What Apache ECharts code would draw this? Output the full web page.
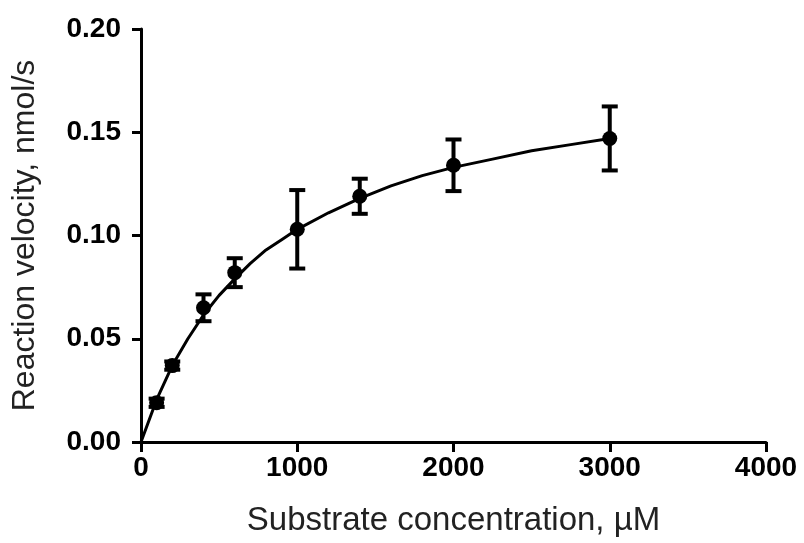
<!DOCTYPE html>
<html>
<head>
<meta charset="utf-8">
<script src="https://cdn.jsdelivr.net/npm/echarts@6/dist/echarts.min.js"></script>
<style>html,body{margin:0;padding:0;background:#fff;}#c{width:804px;height:543px;}</style>
</head>
<body>
<div id="c"></div>
<script>
// Measured data (substrate concentration in µM, velocity in nmol/s, SEM)
var concentrations = [100, 200, 400, 600, 1000, 1400, 2000, 3000];
var velocities = [0.019, 0.037, 0.065, 0.082, 0.103, 0.119, 0.134, 0.147];
var errors = [0.002, 0.002, 0.0065, 0.007, 0.019, 0.0085, 0.0125, 0.0155];
// Fitted curve, values
var fitX = [0, 100, 200, 300, 400, 500, 600, 700, 800, 900, 1000, 1200, 1400, 1600, 1800, 2000, 2250, 2500, 2750, 3000];
var fitY = [0, 0.0205, 0.037, 0.050, 0.0615, 0.071, 0.079, 0.0865, 0.093, 0.098, 0.103, 0.111, 0.118, 0.124, 0.129, 0.133, 0.137, 0.141, 0.144, 0.147];
var xTicks = [0, 1000, 2000, 3000, 4000];
var yTicks = [0.00, 0.05, 0.10, 0.15, 0.20];

var chart = echarts.init(document.getElementById('c'));
var pts = concentrations.map(function (x, i) { return [x, velocities[i]]; });
var bars = concentrations.map(function (x, i) { return [x, velocities[i] - errors[i], velocities[i] + errors[i]]; });
var curve = fitX.map(function (x, i) { return [x, fitY[i]]; });
var tickFont = { color: '#000', fontFamily: 'Liberation Sans', fontWeight: 'bold', fontSize: 28 };
chart.setOption({
  animation: false,
  backgroundColor: '#fff',
  grid: { left: 141, right: 38, top: 29, bottom: 101 },
  xAxis: {
    type: 'value', min: xTicks[0], max: xTicks[xTicks.length - 1], interval: 1000,
    name: 'Substrate concentration, µM', nameLocation: 'middle', nameGap: 62,
    nameTextStyle: { color: '#222', fontFamily: 'Liberation Sans', fontSize: 33 },
    axisLine: { lineStyle: { color: '#000', width: 3 } },
    axisTick: { length: 10, lineStyle: { color: '#000', width: 3 } },
    axisLabel: Object.assign({ margin: 12, formatter: function (v) { return String(v); } }, tickFont),
    splitLine: { show: false }
  },
  yAxis: {
    type: 'value', min: yTicks[0], max: yTicks[yTicks.length - 1], interval: 0.05,
    name: 'Reaction velocity, nmol/s', nameLocation: 'middle', nameGap: 100,
    nameTextStyle: { color: '#222', fontFamily: 'Liberation Sans', fontSize: 32 },
    axisLine: { show: true, lineStyle: { color: '#000', width: 3 } },
    axisTick: { show: true, length: 9, lineStyle: { color: '#000', width: 3 } },
    axisLabel: Object.assign({ margin: 20, formatter: function (v) { return v.toFixed(2); } }, tickFont),
    splitLine: { show: false }
  },
  series: [
    {
      type: 'line', data: curve, smooth: false, showSymbol: false,
      lineStyle: { color: '#000', width: 3, join: 'round' }, z: 2
    },
    {
      type: 'custom', data: bars, z: 3,
      renderItem: function (params, api) {
        var x = api.value(0);
        var lo = api.coord([x, api.value(1)]);
        var hi = api.coord([x, api.value(2)]);
        var hw = 8;
        var st = { stroke: '#000', lineWidth: 4 };
        return {
          type: 'group', children: [
            { type: 'line', shape: { x1: lo[0], y1: lo[1], x2: hi[0], y2: hi[1] }, style: st },
            { type: 'line', shape: { x1: lo[0] - hw, y1: lo[1], x2: lo[0] + hw, y2: lo[1] }, style: st },
            { type: 'line', shape: { x1: hi[0] - hw, y1: hi[1], x2: hi[0] + hw, y2: hi[1] }, style: st }
          ]
        };
      }
    },
    {
      type: 'scatter', data: pts, symbol: 'circle', symbolSize: 15, z: 4,
      itemStyle: { color: '#000', opacity: 1 }
    }
  ]
});
</script>
</body>
</html>
